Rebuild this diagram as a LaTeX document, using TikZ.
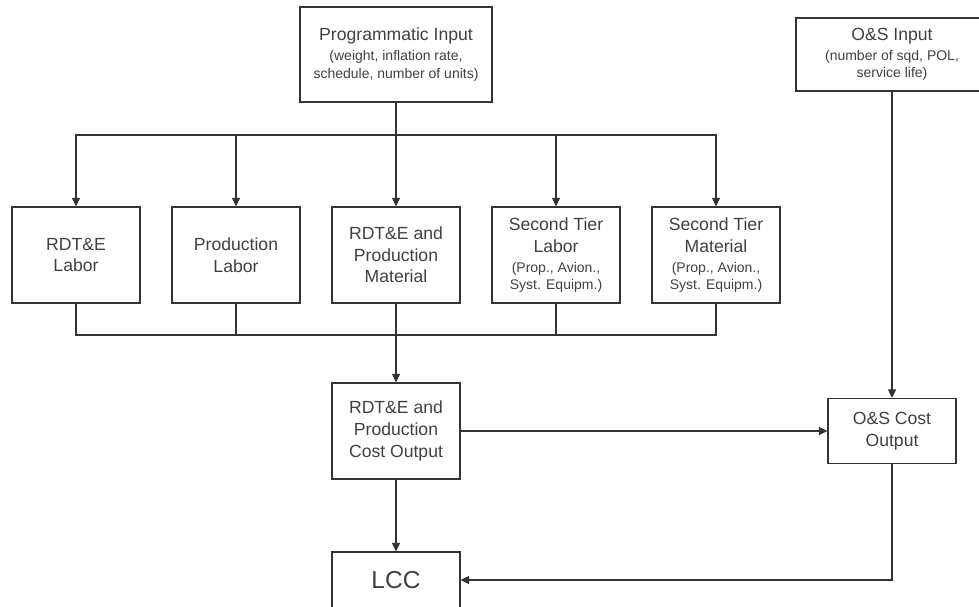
\documentclass[tikz,border=0pt]{standalone}
\usepackage{fontspec}
\setmainfont{Liberation Sans}
\usetikzlibrary{arrows.meta}
\colorlet{linegray}{black!80}
\newcommand{\smalltext}[1]{{\fontsize{14}{17}\selectfont #1}}

\begin{document}
\begin{tikzpicture}[x=1pt,y=-1pt,
	box/.style={draw=linegray, line width=1.2pt, text=black!75, align=center,
		minimum width=128pt, minimum height=96pt, inner sep=0pt,
		font=\fontsize{17.6}{21.6}\selectfont},
	inputbox/.style={box, minimum width=192pt}]
	\useasboundingbox (0,0) rectangle (979,607);
	\clip (0,0) rectangle (979,607);

	\node[inputbox, minimum height=95pt] (prog) at (396,54.5){Programmatic Input\\[-1.6pt]
		\smalltext{(weight, inflation rate,}\\[-4.3pt]\smalltext{schedule, number of units)}};
	\node[inputbox, minimum height=73pt] (osin) at (892,54.5){O\&S Input\\[-1.6pt]
		\smalltext{(number of sqd, POL,}\\[-4.3pt]\smalltext{service life)}};

	\node[box] (rl) at (76,255){RDT\&E\\Labor};
	\node[box] (pl) at (236,255){Production\\Labor};
	\node[box] (pm) at (396,255){RDT\&E and\\Production\\Material};
	\node[box] (stl) at (556,255){Second Tier\\Labor\\[-1.6pt]
		\smalltext{(Prop., Avion.,}\\[-4.3pt]\smalltext{Syst. Equipm.)}};
	\node[box] (stm) at (716,255){Second Tier\\Material\\[-1.6pt]
		\smalltext{(Prop., Avion.,}\\[-4.3pt]\smalltext{Syst. Equipm.)}};

	\node[box] (cost) at (396,431){RDT\&E and\\Production\\Cost Output};
	\node[box, minimum height=65pt] (oscost) at (892,431){O\&S Cost\\Output};
	\node[box, minimum height=56pt, font=\fontsize{24.5}{29}\selectfont] (lcc) at (396,580){LCC};

	\begin{scope}[>={Triangle[length=8.5pt,width=8pt]},
			every edge/.style={draw=linegray, line width=1.2pt}]
		\coordinate (tbus) at (396,135);
		\coordinate (bbus) at (396,335);
		\draw[linegray, line width=1.2pt] (prog.south) -- (tbus);
		\draw[linegray, line width=1.2pt, line cap=rect] (tbus -| rl.north) -- (tbus -| stm.north);
		\foreach \n in {rl,pl,pm,stl,stm}
			\path[->] (tbus -| \n.north) edge (\n.north);

		\draw[linegray, line width=1.2pt, line cap=rect] (bbus -| rl.south) -- (bbus -| stm.south);
		\foreach \n in {rl,pl,stl,stm}
			\path (\n.south) edge (bbus -| \n.south);

		\path[->] (pm.south) edge (cost.north)
			(osin.south) edge (oscost.north)
			(cost.east) edge (oscost.west)
			(cost.south) edge (lcc.north)
			(oscost.south) edge[to path={|- (\tikztotarget)}] (lcc.east);
	\end{scope}
\end{tikzpicture}
\end{document}
